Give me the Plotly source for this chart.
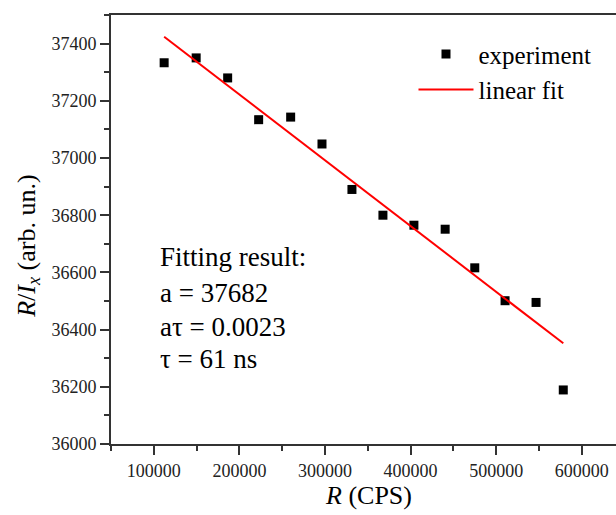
import plotly.graph_objects as go

rate_cps = [112100, 149500, 186300, 222500, 259900, 296500, 331500,
            367700, 403900, 440400, 475000, 510400, 546600, 578400]
ratio = [37333, 37350, 37280, 37134, 37143, 37049, 36890,
         36800, 36765, 36751, 36616, 36501, 36495, 36189]

# Linear fit line endpoints
fit_x = [112100, 578400]
fit_y = [37424, 36352]

fit_text = ["Fitting result:", "a = 37682", "aτ = 0.0023", "τ = 61 ns"]
x_ticks = [100000, 200000, 300000, 400000, 500000, 600000]
y_ticks = [36000, 36200, 36400, 36600, 36800, 37000, 37200, 37400]

FONT = "Liberation Serif, Times New Roman, DejaVu Serif, serif"
AX = "#333333"

fig = go.Figure()
fig.add_trace(go.Scatter(
    x=rate_cps, y=ratio, mode="markers", name="experiment",
    marker=dict(symbol="square", size=9, color="black"),
))
fig.add_trace(go.Scatter(
    x=fit_x, y=fit_y, mode="lines", name="linear fit",
    line=dict(color="#ff0000", width=2),
))

# Fitting result text block
text_y = [0.435, 0.352, 0.273, 0.198]
for t, yy in zip(fit_text, text_y):
    fig.add_annotation(text=t, xref="paper", yref="paper", x=0.093, y=yy,
                       xanchor="left", yanchor="middle", showarrow=False,
                       font=dict(family=FONT, size=27, color="black"))

# Axis titles
fig.add_annotation(text="<i>R</i>/<i>I</i><sub><i>x</i></sub> (arb. un.)",
                   xref="paper", yref="paper", x=-0.166, y=0.46,
                   xanchor="center", yanchor="middle", textangle=-90,
                   showarrow=False, font=dict(family=FONT, size=26, color="black"))
fig.add_annotation(text="<i>R</i> (CPS)", xref="paper", yref="paper",
                   x=0.51, y=-0.12, xanchor="center", yanchor="middle",
                   showarrow=False, font=dict(family=FONT, size=26, color="black"))

fig.update_layout(
    width=616, height=515,
    margin=dict(l=111, r=0, t=15, b=71),
    paper_bgcolor="white", plot_bgcolor="white",
    showlegend=True,
    font=dict(family=FONT),
    legend=dict(x=0.599, y=0.962, xanchor="left", yanchor="top",
                bgcolor="rgba(0,0,0,0)", font=dict(family=FONT, size=25, color="black"),
                itemwidth=55, tracegroupgap=0),
    xaxis=dict(range=[50000, 640000], tickvals=x_ticks,
               ticktext=[str(v) for v in x_ticks],
               showgrid=False, zeroline=False,
               showline=True, linecolor=AX, linewidth=2, mirror=True,
               ticks="outside", ticklen=9, tickwidth=1.5, tickcolor=AX,
               minor=dict(dtick=50000, ticks="outside", ticklen=5, tickwidth=1.5, tickcolor=AX),
               tickfont=dict(family=FONT, size=18, color="#222222")),
    yaxis=dict(range=[36000, 37500], tickvals=y_ticks,
               ticktext=[str(v) for v in y_ticks],
               showgrid=False, zeroline=False,
               showline=True, linecolor=AX, linewidth=2, mirror=False,
               ticks="outside", ticklen=9, tickwidth=1.5, tickcolor=AX,
               minor=dict(dtick=100, ticks="outside", ticklen=5, tickwidth=1.5, tickcolor=AX),
               tickfont=dict(family=FONT, size=18, color="#222222")),
)

fig.write_html("out.html")
